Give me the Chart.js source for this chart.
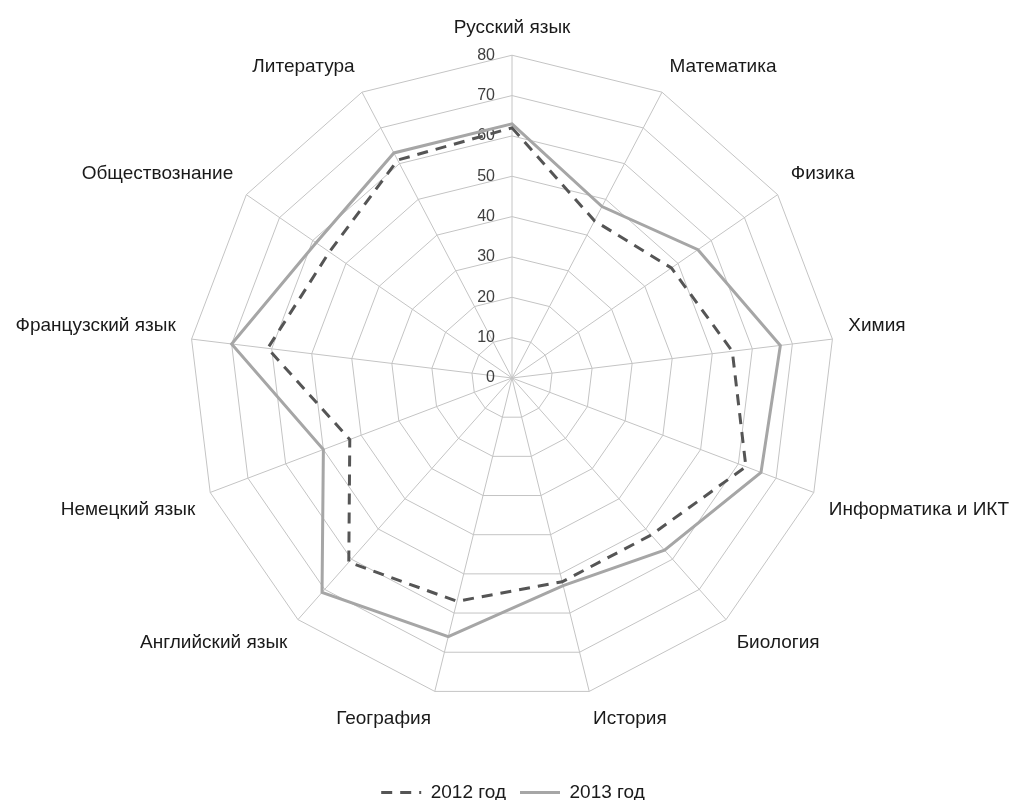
<!DOCTYPE html>
<html>
<head>
<meta charset="utf-8">
<script src="https://cdn.jsdelivr.net/npm/chart.js@4"></script>
<style>
  html, body { margin: 0; padding: 0; background: #fff; }
  #wrap { width: 1010px; height: 800px; }
</style>
</head>
<body>
<div id="wrap"><canvas id="radar"></canvas></div>
<script>
const subjects = ['Русский язык', 'Математика', 'Физика', 'Химия', 'Информатика и ИКТ', 'Биология',
  'История', 'География', 'Английский язык', 'Немецкий язык', 'Французский язык', 'Обществознание', 'Литература'];
const scores2012 = [62, 44, 48, 55, 62, 52, 52, 57, 61, 43, 61, 55, 61];
const scores2013 = [63, 48, 56, 67, 66, 57, 53, 66, 71, 50, 70, 59, 63];
const seriesNames = ['2012 год', '2013 год'];
const axisMax = 80;
const axisStep = 10;

// tick numbers sit left of the vertical axis, like in Excel
const tickLabels = {
  id: 'tickLabels',
  beforeDatasetsDraw(chart) {
    const r = chart.scales.r;
    const ctx = chart.ctx;
    ctx.save();
    ctx.font = '16px "Liberation Sans"';
    ctx.fillStyle = '#404040';
    ctx.textAlign = 'right';
    ctx.textBaseline = 'middle';
    r.ticks.forEach(t => {
      const p = r.getPointPositionForValue(0, t.value);
      ctx.fillText(t.label, p.x - 17, p.y);
    });
    ctx.restore();
  }
};

new Chart(document.getElementById('radar'), {
  type: 'radar',
  data: {
    labels: subjects,
    datasets: [{
        label: seriesNames[0],
        data: scores2012,
        borderColor: '#555555',
        borderWidth: 3,
        borderDash: [11, 8],
        fill: false,
        pointRadius: 0
      }, {
        label: seriesNames[1],
        data: scores2013,
        borderColor: '#a6a6a6',
        borderWidth: 3,
        fill: false,
        pointRadius: 0
      }
    ]
  },
  options: {
    responsive: true,
    maintainAspectRatio: false,
    animation: false,
    layout: {
      padding: { top: 2, bottom: -12, left: 16, right: 0 }
    },
    plugins: {
      legend: {
        position: 'bottom',
        // empty title only to keep some room between the radar and the legend
        title: { display: true, text: '', font: { size: 10 }, padding: { top: 13, bottom: 0 } },
        labels: {
          usePointStyle: true,
          pointStyle: 'line',
          pointStyleWidth: 40,
          color: '#1a1a1a',
          font: { family: 'Liberation Sans', size: 19 },
          padding: 14,
          generateLabels(chart) {
            return chart.data.datasets.map((ds, i) => ({
              text: ds.label,
              strokeStyle: ds.borderColor,
              fillStyle: ds.borderColor,
              lineWidth: ds.borderWidth,
              lineDash: ds.borderDash || [],
              pointStyle: 'line',
              fontColor: '#1a1a1a',
              datasetIndex: i
            }));
          }
        }
      },
      tooltip: { enabled: false }
    },
    scales: {
      r: {
        min: 0,
        max: axisMax,
        ticks: { stepSize: axisStep, display: false },
        grid: { color: '#c4c4c4', lineWidth: 1 },
        angleLines: { color: '#c4c4c4', lineWidth: 1 },
        pointLabels: {
          color: '#1a1a1a',
          padding: 16,
          font: { family: 'Liberation Sans', size: 19 }
        }
      }
    }
  },
  plugins: [tickLabels]
});
</script>
</body>
</html>
